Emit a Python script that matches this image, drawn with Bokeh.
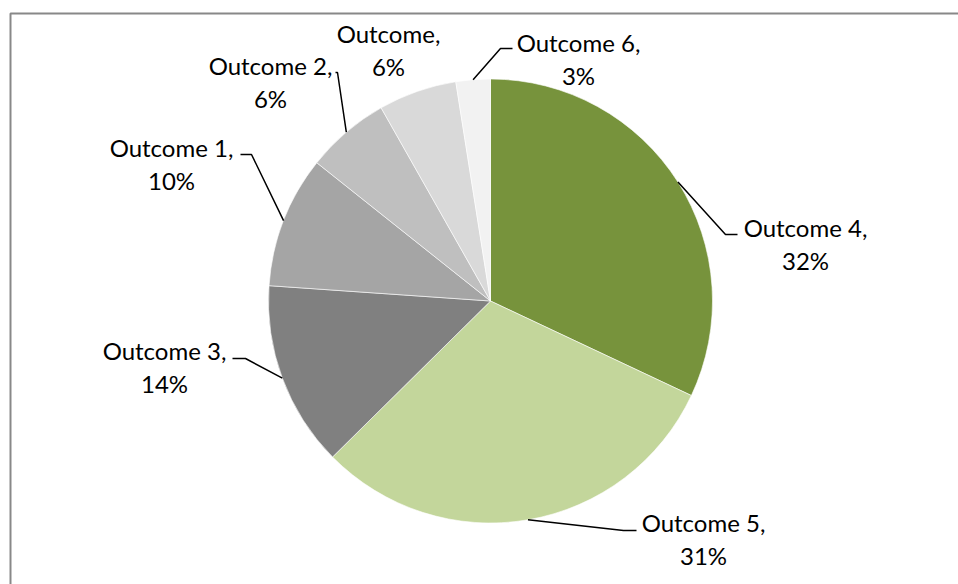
import math
from bokeh.plotting import figure
from bokeh.models import Range1d, ColumnDataSource
from bokeh.core.properties import value
from bokeh.embed import file_html
from bokeh.resources import INLINE

# ---- data (clockwise from 12 o'clock) ----
categories = ["Outcome 4", "Outcome 5", "Outcome 3", "Outcome 1", "Outcome 2", "Outcome", "Outcome 6"]
shares = [32.0, 30.6, 13.5, 9.6, 6.1, 5.7, 2.5]
colors = ["#77933C", "#C3D69B", "#808080", "#A5A5A5", "#BFBFBF", "#D9D9D9", "#F2F2F2"]

# ---- layout (picture pixels) ----
W, H = 958, 584
CX, CY, R = 490, 300.5, 222
LINE_GAP = 33
# label first-line centre (x, y) and leader elbow/end points
label_pos = {
    "Outcome 4": (805, 227, (725, 234), (737, 234)),
    "Outcome 5": (703, 522, (623, 530), (636, 530)),
    "Outcome 3": (164, 350, (245, 358), (232, 358)),
    "Outcome 1": (171, 147, (251, 154), (240, 154)),
    "Outcome 2": (270, 65, (337, 72), (335, 72)),
    "Outcome":   (388, 33, None, None),
    "Outcome 6": (578, 42, (500, 48), (512, 48)),
}

FONT = "Lato"
FSIZE = "24px"


def px(X):
    return X


def py(Y):
    return H - Y


p = figure(width=W, height=H, output_backend="svg", toolbar_location=None,
           title=None, x_axis_location=None, y_axis_location=None,
           x_range=Range1d(0, W), y_range=Range1d(0, H),
           min_border=0, outline_line_color=None, background_fill_color="white",
           border_fill_color="white")
p.xgrid.visible = False
p.ygrid.visible = False

# chart-area border (only its left and top edges are inside the crop)
p.line([px(10), px(10), px(W + 20)], [py(H + 20), py(13), py(13)], line_color="#888888", line_width=2)

total = sum(shares)
starts, ends, mids = [], [], []
acc = 0.0
for s in shares:
    a0 = math.pi / 2 - 2 * math.pi * acc / total
    acc += s
    a1 = math.pi / 2 - 2 * math.pi * acc / total
    starts.append(a1)
    ends.append(a0)
    mids.append((a0 + a1) / 2)

src = ColumnDataSource(dict(start=starts, end=ends, color=colors, name=categories))
p.wedge(x=px(CX), y=py(CY), radius=R, start_angle="start", end_angle="end",
        fill_color="color", line_color="white", line_width=0.6, source=src)

pct_labels = ["%d%%" % math.floor(s / total * 100 + 0.5) for s in shares]

t1x, t1y, t1s, t2x, t2y, t2s = [], [], [], [], [], []
for name, pct, mid in zip(categories, pct_labels, mids):
    lx, ly, elbow, end = label_pos[name]
    t1x.append(px(lx)); t1y.append(py(ly)); t1s.append(name + ",")
    t2x.append(px(lx)); t2y.append(py(ly + LINE_GAP)); t2s.append(pct)
    if elbow is not None:
        ex = CX + R * math.cos(mid)
        ey = CY - R * math.sin(mid)
        p.line([px(ex), px(elbow[0]), px(end[0])], [py(ey), py(elbow[1]), py(end[1])],
               line_color="black", line_width=1.5)

for xs, ys, ts in ((t1x, t1y, t1s), (t2x, t2y, t2s)):
    p.text(x=xs, y=ys, text=ts, text_align="center", text_baseline="middle",
           text_font=value(FONT), text_font_size=FSIZE, text_color="black")

open("out.html", "w").write(file_html(p, INLINE))
